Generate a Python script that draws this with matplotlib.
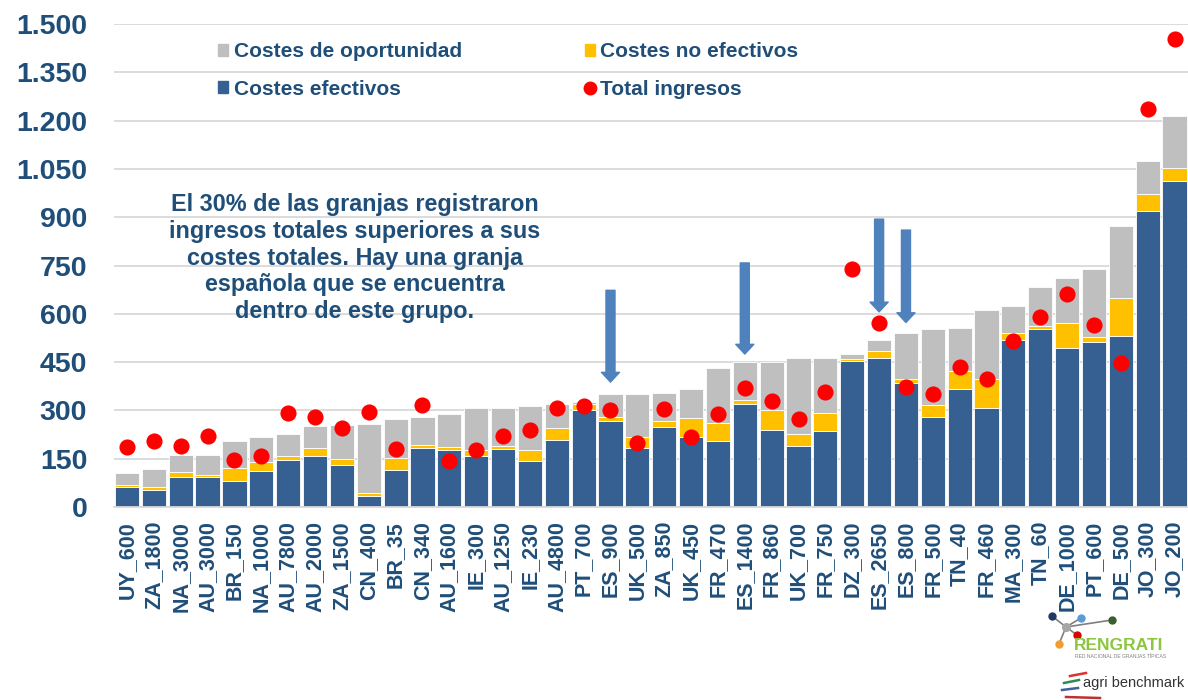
import matplotlib.pyplot as plt
import numpy as np
from matplotlib.patches import Patch
from matplotlib.lines import Line2D

plt.rcParams["font.family"] = ["Liberation Sans", "DejaVu Sans"]

# granjas ordenadas por coste total
farms = ["UY_600", "ZA_1800", "NA_3000", "AU_3000", "BR_150", "NA_1000", "AU_7800",
         "AU_2000", "ZA_1500", "CN_400", "BR_35", "CN_340", "AU_1600", "IE_300",
         "AU_1250", "IE_230", "AU_4800", "PT_700", "ES_900", "UK_500", "ZA_850",
         "UK_450", "FR_470", "ES_1400", "FR_860", "UK_700", "FR_750", "DZ_300",
         "ES_2650", "ES_800", "FR_500", "TN_40", "FR_460", "MA_300", "TN_60",
         "DE_1000", "PT_600", "DE_500", "JO_300", "JO_200"]

# costes acumulados (tope de cada tramo)
costes_efectivos = [63, 53, 94, 94, 82, 111, 146, 158, 132, 35, 115, 184, 178, 158,
                    179, 144, 208, 301, 268, 184, 249, 218, 206, 320, 239, 189, 237,
                    454, 464, 384, 278, 368, 306, 518, 554, 495, 512, 531, 919, 1013]
tope_no_efectivos = [68, 63, 110, 99, 121, 141, 159, 184, 148, 42, 153, 192, 185, 177,
                     191, 177, 246, 320, 278, 218, 268, 277, 260, 332, 301, 227, 293,
                     461, 483, 398, 317, 422, 397, 541, 562, 572, 527, 650, 972, 1052]
tope_oportunidad = [106, 118, 160, 162, 204, 218, 228, 252, 254, 257, 273, 280, 289, 306,
                    308, 313, 319, 327, 351, 352, 353, 366, 432, 450, 450, 463, 464,
                    476, 520, 541, 552, 555, 611, 624, 682, 712, 738, 874, 1076, 1215]
total_ingresos = [187, 206, 189, 221, 146, 158, 291, 278, 246, 294, 180, 317, 144, 177,
                  220, 239, 309, 313, 301, 198, 305, 218, 288, 369, 329, 272, 358, 738,
                  572, 373, 351, 435, 399, 516, 591, 660, 565, 448, 1237, 1452]

# flechas sobre las granjas espanolas: (granja, valor inicio, valor punta)
flechas = [("ES_900", 673, 388), ("ES_1400", 758, 475),
           ("ES_2650", 894, 606), ("ES_800", 860, 573)]

c_blue = "#376092"
c_yellow = "#FFC000"
c_grey = "#BFBFBF"
c_text = "#1F4E79"
c_arrow = "#4F81BD"

efe = np.array(costes_efectivos)
noef = np.array(tope_no_efectivos) - efe
opp = np.array(tope_oportunidad) - np.array(tope_no_efectivos)
x = np.arange(len(farms))

fig = plt.figure(figsize=(11.88, 7), dpi=100)
ax = fig.add_axes([0.0956, 0.2757, 0.9044, 0.69])

w = 0.9
ax.bar(x, efe, w, color=c_blue, edgecolor="white", linewidth=0.6, zorder=2)
ax.bar(x, noef, w, bottom=efe, color=c_yellow, edgecolor="white", linewidth=0.6, zorder=2)
ax.bar(x, opp, w, bottom=efe + noef, color=c_grey, edgecolor="white", linewidth=0.6, zorder=2)
ax.scatter(x, total_ingresos, s=135, color="#FF0000", zorder=4, linewidths=0)

for name, y0, y1 in flechas:
    i = farms.index(name)
    ax.annotate("", xy=(i, y1), xytext=(i, y0),
                arrowprops=dict(width=6.5, headwidth=13, headlength=7, color=c_arrow,
                                shrink=0), zorder=3)

ax.set_xlim(-0.5, len(farms) - 0.5)
ax.set_ylim(0, 1500)
yt = np.arange(0, 1501, 150)
ax.set_yticks(yt)
ax.set_yticklabels([f"{v:,}".replace(",", ".") for v in yt])
ax.set_xticks(x)
ax.set_xticklabels(farms, rotation=90)
ax.tick_params(axis="y", length=0, pad=19, labelsize=20.5, labelcolor=c_text)
ax.tick_params(axis="x", length=0, pad=10, labelsize=15.5, labelcolor=c_text)
for lab in ax.get_xticklabels() + ax.get_yticklabels():
    lab.set_fontweight("bold")

ax.grid(axis="y", color="#D9D9D9", linewidth=1.3, zorder=0)
ax.set_axisbelow(True)
for s in ["left", "right", "top"]:
    ax.spines[s].set_visible(False)
ax.spines["bottom"].set_color("#D9D9D9")
ax.spines["bottom"].set_linewidth(1.3)

handles = [Patch(color=c_grey, label="Costes de oportunidad"),
           Patch(color=c_blue, label="Costes efectivos"),
           Patch(color=c_yellow, label="Costes no efectivos"),
           Line2D([], [], marker="o", color="#FF0000", linestyle="none",
                  markersize=9, label="Total ingresos")]
ax.legend(handles=handles, ncol=2, loc="upper left", frameon=False,
          bbox_to_anchor=(218 / 1188, 1 - 42 / 700), bbox_transform=fig.transFigure,
          borderpad=0, borderaxespad=0, handlelength=0.5, handleheight=0.5,
          handletextpad=0.25, columnspacing=5.9, labelspacing=0.9,
          prop=dict(size=15, weight="bold"), labelcolor=c_text)

ax.text(355 / 1188, 1 - 258 / 700,
        "El 30% de las granjas registraron\ningresos totales superiores a sus\n"
        "costes totales. Hay una granja\nespañola que se encuentra\ndentro de este grupo.",
        transform=fig.transFigure, ha="center", va="center", fontsize=16.8,
        fontweight="bold", color=c_text, linespacing=1.22, zorder=5)

# logos (aproximados)
def fx(px):
    return px / 1188

def fy(py):
    return 1 - py / 700

hub = (1066, 627)
nodes = [((1052, 616), "#1F3864"), ((1081, 618), "#5B9BD5"), ((1112, 620), "#3A5F2B"),
         ((1077, 635), "#E00000"), ((1059, 644), "#F39C33")]
for (px, py), col in nodes:
    fig.add_artist(Line2D([fx(hub[0]), fx(px)], [fy(hub[1]), fy(py)], color="#7F7F7F",
                          linewidth=1.2, transform=fig.transFigure))
for (px, py), col in nodes:
    fig.add_artist(Line2D([fx(px)], [fy(py)], marker="o", markersize=5, color=col,
                          transform=fig.transFigure))
fig.add_artist(Line2D([fx(hub[0])], [fy(hub[1])], marker="o", markersize=5.5,
                      color="#A6A6A6", transform=fig.transFigure))
fig.text(fx(1074), fy(645), "RENGRATI", color="#8CC63F", fontsize=12.5,
         fontweight="bold", va="center", ha="left")
fig.text(fx(1075), fy(657), "RED NACIONAL DE GRANJAS TÍPICAS", color="#808080",
         fontsize=3.6, va="center", ha="left")
stripes = [((1070, 676), (1086, 673), "#E03030"), ((1064, 683), (1079, 680), "#2E8B57"),
           ((1062, 690), (1078, 688), "#4060A0"), ((1066, 697), (1100, 698), "#C03030")]
for (ax0, ay0), (ax1, ay1), col in stripes:
    fig.add_artist(Line2D([fx(ax0), fx(ax1)], [fy(ay0), fy(ay1)], color=col,
                          linewidth=1.8, transform=fig.transFigure))
fig.text(fx(1083), fy(683), "agri benchmark", color="#333333", fontsize=10.5,
         va="center", ha="left")

fig.savefig("out.png", dpi=100)
